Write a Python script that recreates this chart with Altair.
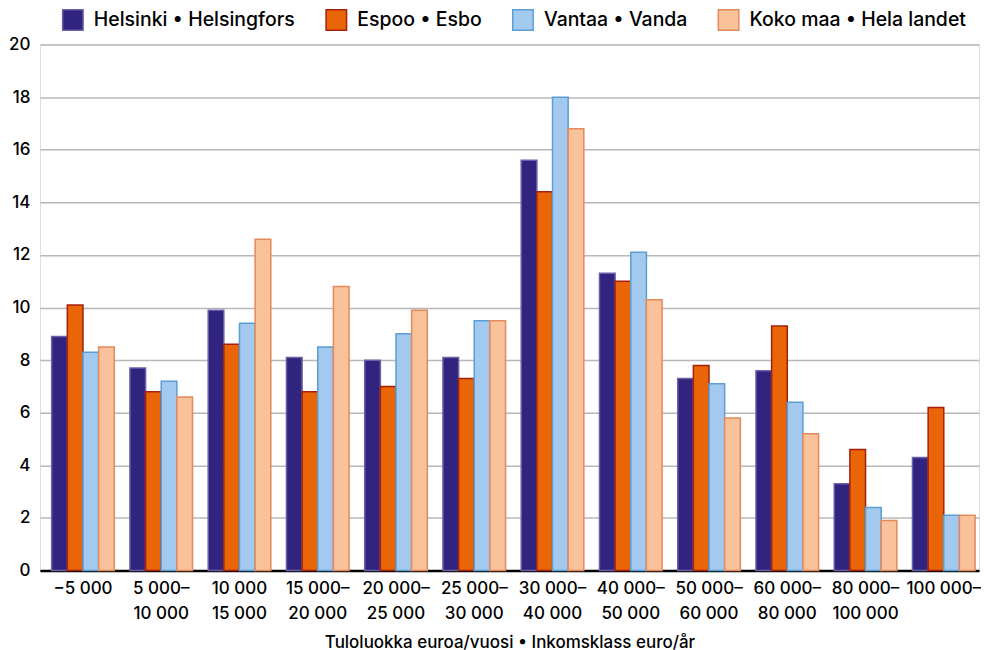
import altair as alt
import pandas as pd

categories = ["−5 000", "5 000–\n10 000", "10 000\n15 000", "15 000–\n20 000", "20 000–\n25 000",
              "25 000–\n30 000", "30 000–\n40 000", "40 000–\n50 000", "50 000–\n60 000",
              "60 000–\n80 000", "80 000–\n100 000", "100 000–"]
series = ["Helsinki • Helsingfors", "Espoo • Esbo", "Vantaa • Vanda", "Koko maa • Hela landet"]
helsinki = [8.9, 7.7, 9.9, 8.1, 8.0, 8.1, 15.6, 11.3, 7.3, 7.6, 3.3, 4.3]
espoo = [10.1, 6.8, 8.6, 6.8, 7.0, 7.3, 14.4, 11.0, 7.8, 9.3, 4.6, 6.2]
vantaa = [8.3, 7.2, 9.4, 8.5, 9.0, 9.5, 18.0, 12.1, 7.1, 6.4, 2.4, 2.1]
koko = [8.5, 6.6, 12.6, 10.8, 9.9, 9.5, 16.8, 10.3, 5.8, 5.2, 1.9, 2.1]
y_ticks = [0, 2, 4, 6, 8, 10, 12, 14, 16, 18, 20]
fills = ["#30247f", "#ea6507", "#a3c9ee", "#f9c29b"]
strokes = ["#6a5fa8", "#a3200d", "#5a9fd4", "#e4895c"]

rows = []
for s, vals in zip(series, [helsinki, espoo, vantaa, koko]):
    for c, v in zip(categories, vals):
        rows.append({"cat": c, "series": s, "value": v})
df = pd.DataFrame(rows)

FONT = "Inter"

legend_kw = dict(title=None, orient="none", legendX=22, legendY=-36,
                 direction="horizontal", symbolType="square", symbolSize=420,
                 symbolStrokeWidth=1.5, labelFontSize=19.5, labelFont=FONT,
                 labelFontWeight=500,
                 labelColor="#000", columnPadding=27, labelOffset=10, labelLimit=0)

chart = alt.Chart(df).mark_bar(strokeWidth=1.5).encode(
    x=alt.X("cat:N", sort=categories,
            scale=alt.Scale(paddingInner=0.2, paddingOuter=0.1, align=0.75),
            axis=alt.Axis(title="Tuloluokka euroa/vuosi • Inkomsklass euro/år", labelAngle=0,
                          labelExpr="split(datum.label, '\\n')",
                          labelFontSize=17, labelFontWeight=500, labelColor="#000",
                          labelPadding=10, labelLineHeight=25,
                          titleFontSize=17, titleFontWeight=500, titleColor="#000",
                          titlePadding=13, ticks=False, domainColor="#000", domainWidth=2.5,
                          labelFont=FONT, titleFont=FONT)),
    xOffset=alt.XOffset("series:N", sort=series),
    y=alt.Y("value:Q", scale=alt.Scale(domain=[0, 20], nice=False),
            axis=alt.Axis(title=None, values=y_ticks, ticks=False,
                          domain=False, labelFontSize=17, labelFontWeight=500,
                          labelColor="#000", labelPadding=10,
                          labelFont=FONT, gridColor="#b8b8b8", gridWidth=1.5,
                          labelOverlap=False)),
    fill=alt.Fill("series:N", sort=series, scale=alt.Scale(domain=series, range=fills),
                  legend=alt.Legend(**legend_kw)),
    stroke=alt.Stroke("series:N", sort=series, scale=alt.Scale(domain=series, range=strokes),
                      legend=alt.Legend(**legend_kw)),
).properties(width=941, height=527, padding={"left": 0, "top": 0, "right": 0, "bottom": 0}
).configure_view(stroke=None).configure(background="white")

chart.save("out.html", embed_options={"renderer": "svg", "actions": False})
